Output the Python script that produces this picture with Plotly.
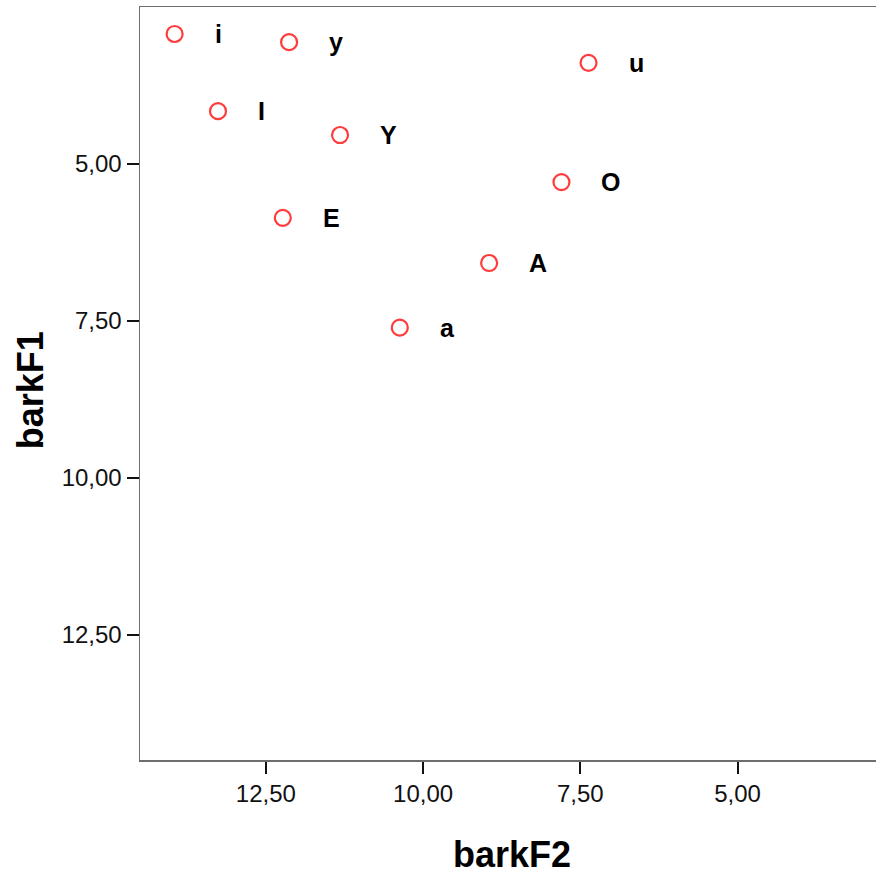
import plotly.graph_objects as go

# data
labels = ["i", "y", "u", "I", "Y", "O", "E", "A", "a"]
barkF2 = [13.95, 12.13, 7.37, 13.26, 11.32, 7.80, 12.23, 8.95, 10.37]
barkF1 = [2.93, 3.06, 3.39, 4.16, 4.54, 5.29, 5.86, 6.58, 7.61]

x_tickvals = [12.5, 10.0, 7.5, 5.0]
x_ticktext = ["12,50", "10,00", "7,50", "5,00"]
y_tickvals = [5.0, 7.5, 10.0, 12.5]
y_ticktext = ["5,00", "7,50", "10,00", "12,50"]

FONT = "Liberation Sans, Arial, sans-serif"

fig = go.Figure()
fig.add_trace(go.Scatter(
    x=barkF2, y=barkF1, mode="markers",
    marker=dict(symbol="circle-open", size=16, color="#ff3b3b",
                line=dict(width=2.2, color="#ff3b3b")),
    hoverinfo="skip", showlegend=False,
))

for lab, xv, yv in zip(labels, barkF2, barkF1):
    fig.add_annotation(x=xv, y=yv, text="<b>%s</b>" % lab, showarrow=False,
                       xanchor="left", yanchor="middle", xshift=38,
                       font=dict(family=FONT, size=25, color="black"))

fig.add_annotation(xref="paper", yref="paper", x=0.505, y=-0.126,
                   text="<b>barkF2</b>", showarrow=False,
                   xanchor="center", yanchor="middle",
                   font=dict(family=FONT, size=36, color="black"))
fig.add_annotation(xref="paper", yref="paper", x=-0.1495, y=0.491,
                   text="<b>barkF1</b>", showarrow=False, textangle=-90,
                   xanchor="center", yanchor="middle",
                   font=dict(family=FONT, size=36, color="black"))

fig.update_layout(
    width=876, height=875,
    margin=dict(l=140, r=0, t=7, b=115),
    paper_bgcolor="white", plot_bgcolor="white",
    xaxis=dict(range=[14.5, 2.8], autorange=False,
               tickvals=x_tickvals, ticktext=x_ticktext,
               showgrid=False, zeroline=False,
               showline=True, linecolor="#6e6e6e", linewidth=1.5, mirror=True,
               ticks="outside", ticklen=12, tickwidth=2, tickcolor="#111",
               tickfont=dict(family=FONT, size=24, color="#111")),
    yaxis=dict(range=[14.5, 2.5], autorange=False,
               tickvals=y_tickvals, ticktext=y_ticktext,
               showgrid=False, zeroline=False,
               showline=True, linecolor="#6e6e6e", linewidth=1.5, mirror=False,
               ticks="outside", ticklen=12, tickwidth=2, tickcolor="#111",
               tickfont=dict(family=FONT, size=24, color="#111")),
)

fig.write_html(
    "out.html",
    config={"displayModeBar": False, "staticPlot": True},
    post_script="document.body.style.margin='0';document.body.style.overflow='hidden';",
)
